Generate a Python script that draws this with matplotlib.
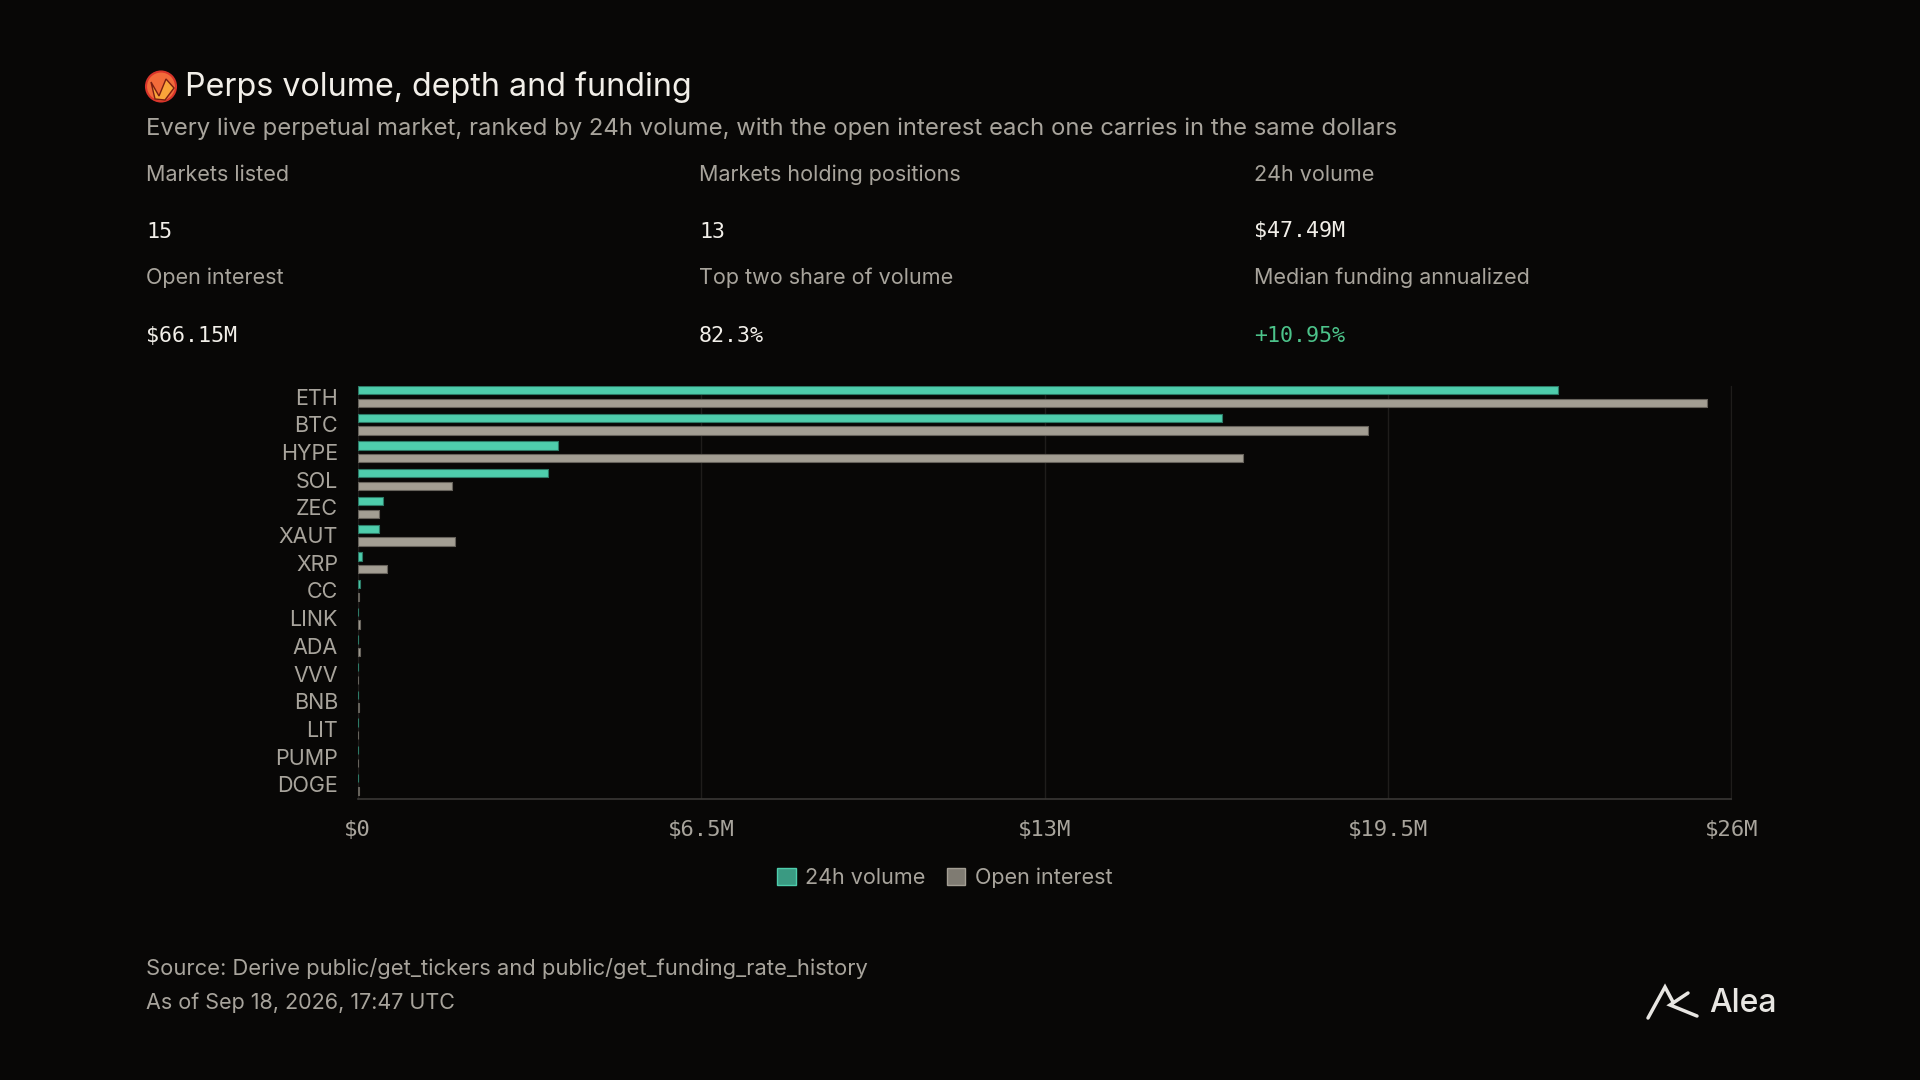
import matplotlib
matplotlib.use("Agg")
import numpy as np
import matplotlib.pyplot as plt
from matplotlib.patches import Patch, Circle, Polygon
from matplotlib.lines import Line2D

# --- data ---
markets = ["ETH", "BTC", "HYPE", "SOL", "ZEC", "XAUT", "XRP", "CC",
           "LINK", "ADA", "VVV", "BNB", "LIT", "PUMP", "DOGE"]
volume_m = [22.71, 16.36, 3.79, 3.61, 0.48, 0.40, 0.085, 0.04,
            0.005, 0.005, 0.002, 0.002, 0.0, 0.0, 0.002]
oi_m = [25.53, 19.12, 16.76, 1.79, 0.40, 1.84, 0.55, 0.02,
        0.04, 0.04, 0.005, 0.03, 0.0, 0.0, 0.03]
tick_vals = [0, 6.5, 13, 19.5, 26]
tick_labels = ["$0", "$6.5M", "$13M", "$19.5M", "$26M"]

stat_labels = ["Markets listed", "Markets holding positions", "24h volume",
               "Open interest", "Top two share of volume", "Median funding annualized"]
stat_values = ["15", "13", "$47.49M", "$66.15M", "82.3%", "+10.95%"]

BG = "#080706"
TEAL = "#4ecdac"
GREY = "#a39e93"
TXT = "#a8a49c"
WHITE = "#f2efe9"
GREEN = "#4cc38a"
SANS = ["Inter", "DejaVu Sans"]
MONO = ["DejaVu Sans Mono"]

W, H = 1920, 1080


def fx(x):
    return x / W


def fy(y):
    return 1 - y / H


fig = plt.figure(figsize=(19.2, 10.8), dpi=100, facecolor=BG)

# --- header (icon drawn in pixel coords, y flipped) ---
fig.patches.append(Circle((161, H - 86.5), 15, transform=None, facecolor="#f26b3a",
                          edgecolor="#d9352b", linewidth=1.5))
horse = [[151, 82], [159, 96], [166, 79], [174, 88], [165, 100], [155, 99]]
fig.patches.append(Polygon([[px, H - py] for px, py in horse], closed=True, transform=None,
                           facecolor="#f9a43a", edgecolor="#7a1e12", linewidth=1.0))

fig.text(fx(185), fy(87), "Perps volume, depth and funding", fontsize=23.2,
         color=WHITE, family=SANS, va="center", ha="left")
fig.text(fx(146), fy(129), "Every live perpetual market, ranked by 24h volume, with the open "
         "interest each one carries in the same dollars", fontsize=17.2, color=TXT,
         family=SANS, va="center", ha="left")

col_x = [146, 699, 1254]
for i, (lab, val) in enumerate(zip(stat_labels, stat_values)):
    r, c = divmod(i, 3)
    ly = [175, 278][r]
    vy = [231.5, 335.5][r]
    fig.text(fx(col_x[c]), fy(ly), lab, fontsize=15.5, color=TXT, family=SANS,
             va="center", ha="left")
    fig.text(fx(col_x[c]), fy(vy), val, fontsize=15.6,
             color=GREEN if val.startswith("+") else WHITE,
             family=MONO, va="center", ha="left")

# --- chart ---
ax = fig.add_axes([fx(357.5), fy(798.5), (1731.5 - 357.5) / W, (798.5 - 386) / H])
ax.set_facecolor(BG)
y = np.arange(len(markets))
off = 0.23
h = 0.3
ax.barh(y - off, volume_m, height=h, color=TEAL, edgecolor="#2c7a66", linewidth=0.8,
        joinstyle="round", zorder=3)
ax.barh(y + off, oi_m, height=h, color=GREY, edgecolor="#66625b", linewidth=0.8,
        joinstyle="round", zorder=3)

ax.set_xlim(0, 26)
ax.set_ylim(14.51, -0.38)
ax.set_xticks(tick_vals)
ax.set_xticklabels(tick_labels, family=MONO, fontsize=16, color=TXT)
ax.set_yticks(y)
ax.set_yticklabels(markets, family=SANS, fontsize=15.5, color=TXT)
ax.tick_params(axis="x", length=0, pad=15.5)
ax.tick_params(axis="y", length=0, pad=14)
ax.grid(axis="x", color="#1f1d1b", linewidth=1, zorder=0)
ax.spines["top"].set_visible(False)
ax.spines["right"].set_color("#1f1d1b")
ax.spines["left"].set_color("#1f1d1b")
ax.spines["bottom"].set_color("#3a3835")
ax.spines["bottom"].set_linewidth(1.2)

handles = [Patch(facecolor="#3a9a82", edgecolor=TEAL, label="24h volume"),
           Patch(facecolor="#7f7b72", edgecolor=GREY, label="Open interest")]
fig.legend(handles=handles, loc="center", bbox_to_anchor=(fx(945), fy(878)), ncol=2,
           frameon=False, prop={"family": SANS, "size": 15.5}, labelcolor=TXT,
           handlelength=0.85, handleheight=0.85, handletextpad=0.45, columnspacing=1.0)

# --- footer ---
fig.text(fx(146), fy(968.5), "Source: Derive public/get_tickers and public/get_funding_rate_history",
         fontsize=15.8, color=TXT, family=SANS, va="center", ha="left")
fig.text(fx(146), fy(1002.5), "As of Sep 18, 2026, 17:47 UTC", fontsize=15.5, color=TXT,
         family=SANS, va="center", ha="left")

mark_a = [(1648, 1018), (1665, 987), (1673, 1002)]
mark_b = [(1688, 993), (1670, 1005), (1697, 1016)]
for pts in (mark_a, mark_b):
    xs = [fx(p[0]) for p in pts]
    ys = [fy(p[1]) for p in pts]
    fig.add_artist(Line2D(xs, ys, color="#e8e6e2", linewidth=2.5, solid_capstyle="round",
                          solid_joinstyle="miter", transform=fig.transFigure))
fig.text(fx(1709), fy(1003.5), "Alea", fontsize=23, color="#e8e6e2", family=SANS,
         fontweight="medium", va="center", ha="left")

fig.savefig("out.png", dpi=100, facecolor=BG)
